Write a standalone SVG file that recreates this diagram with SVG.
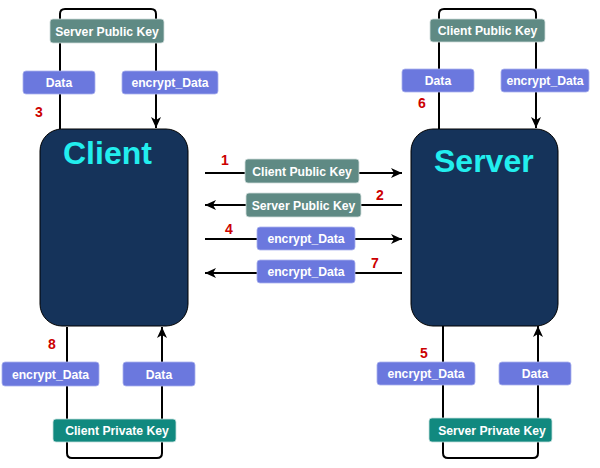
<svg xmlns="http://www.w3.org/2000/svg" width="600" height="468" viewBox="0 0 600 468">
<defs>
<marker id="arr" markerUnits="userSpaceOnUse" markerWidth="12" markerHeight="12" refX="11" refY="6" orient="auto">
<path d="M0,1 L11,6 L0,11 L3,6 Z" fill="#000"/>
</marker>
<style>
.ln{fill:none;stroke:#000;stroke-width:2}
.pk{fill:#5f8a84;stroke:#cfdcda;stroke-width:0.8}
.dt{fill:#6b78de;stroke:#a9b1ee;stroke-width:0.8}
.vk{fill:#11897f;stroke:#c4e0dd;stroke-width:0.8}
.lb{font-family:"Liberation Sans",Arial,sans-serif;font-weight:bold;font-size:12.2px;fill:#fff;text-anchor:middle}
.num{font-family:"Liberation Sans",Arial,sans-serif;font-weight:bold;font-size:14px;fill:#cc0000;text-anchor:middle}
.main{fill:#15335a;stroke:#000;stroke-width:1}
.title{font-family:"Liberation Sans",Arial,sans-serif;font-weight:bold;font-size:32px;fill:#22eeee}
</style>
</defs>
<rect width="600" height="468" fill="#fff"/>
<g id="connectors">
<path class="ln" d="M60,129 V14 Q60,9 65,9 H151 Q156,9 156,14 V128" marker-end="url(#arr)"/>
<path class="ln" d="M439,129 V14 Q439,9 444,9 H531 Q536,9 536,14 V128" marker-end="url(#arr)"/>
<path class="ln" d="M67,327 V453 Q67,458 72,458 H157 Q162,458 162,453 V327" marker-end="url(#arr)"/>
<path class="ln" d="M443,326 V453 Q443,458 448,458 H533 Q538,458 538,453 V326" marker-end="url(#arr)"/>
<path class="ln" d="M205,173 H402" marker-end="url(#arr)"/>
<path class="ln" d="M402,205 H205" marker-end="url(#arr)"/>
<path class="ln" d="M205,239 H402" marker-end="url(#arr)"/>
<path class="ln" d="M402,273 H205" marker-end="url(#arr)"/>
</g>
<g id="client">
<rect class="main" x="40" y="129" width="148" height="197" rx="22"/>
<text class="title" x="63" y="164">Client</text>
</g>
<g id="server">
<rect class="main" x="411" y="129" width="147" height="197" rx="22"/>
<text class="title" x="434" y="172">Server</text>
</g>
<g id="c-spk"><rect class="pk" x="50" y="19" width="114" height="24" rx="3"/><text class="lb" x="107" y="35.5">Server Public Key</text></g>
<g id="c-data-top"><rect class="dt" x="23" y="71" width="72" height="23" rx="3"/><text class="lb" x="59" y="87">Data</text></g>
<g id="c-enc-top"><rect class="dt" x="122" y="71" width="96" height="23" rx="3"/><text class="lb" x="170" y="87">encrypt_Data</text></g>
<g id="s-cpk"><rect class="pk" x="430" y="19" width="115" height="23" rx="3"/><text class="lb" x="487.5" y="35">Client Public Key</text></g>
<g id="s-data-top"><rect class="dt" x="402" y="69" width="72" height="23" rx="3"/><text class="lb" x="438" y="85">Data</text></g>
<g id="s-enc-top"><rect class="dt" x="501" y="69" width="88" height="23" rx="3"/><text class="lb" x="545" y="85">encrypt_Data</text></g>
<g id="m-cpk"><rect class="pk" x="245" y="159" width="114" height="24" rx="3"/><text class="lb" x="302" y="175.5">Client Public Key</text></g>
<g id="m-spk"><rect class="pk" x="246" y="193" width="115" height="24" rx="3"/><text class="lb" x="303.5" y="209.5">Server Public Key</text></g>
<g id="m-enc1"><rect class="dt" x="257" y="227" width="98" height="23" rx="3"/><text class="lb" x="306" y="243">encrypt_Data</text></g>
<g id="m-enc2"><rect class="dt" x="257" y="260" width="98" height="23" rx="3"/><text class="lb" x="306" y="276">encrypt_Data</text></g>
<g id="c-enc-bot"><rect class="dt" x="2" y="362" width="97" height="24" rx="3"/><text class="lb" x="50.5" y="378.5">encrypt_Data</text></g>
<g id="c-data-bot"><rect class="dt" x="123" y="362" width="72" height="24" rx="3"/><text class="lb" x="159" y="378.5">Data</text></g>
<g id="c-prk"><rect class="vk" x="53" y="419" width="123" height="23" rx="3"/><text class="lb" x="117" y="435">Client Private Key</text></g>
<g id="s-enc-bot"><rect class="dt" x="377" y="362" width="98" height="23" rx="3"/><text class="lb" x="426" y="378">encrypt_Data</text></g>
<g id="s-data-bot"><rect class="dt" x="499" y="362" width="72" height="23" rx="3"/><text class="lb" x="535" y="378">Data</text></g>
<g id="s-prk"><rect class="vk" x="429" y="418" width="123" height="24" rx="3"/><text class="lb" x="492" y="434.5">Server Private Key</text></g>
<g id="numbers">
<text class="num" x="39" y="117">3</text>
<text class="num" x="225" y="165">1</text>
<text class="num" x="380" y="200">2</text>
<text class="num" x="229" y="234">4</text>
<text class="num" x="375" y="268">7</text>
<text class="num" x="422" y="108">6</text>
<text class="num" x="52" y="349">8</text>
<text class="num" x="424" y="358">5</text>
</g>
</svg>
